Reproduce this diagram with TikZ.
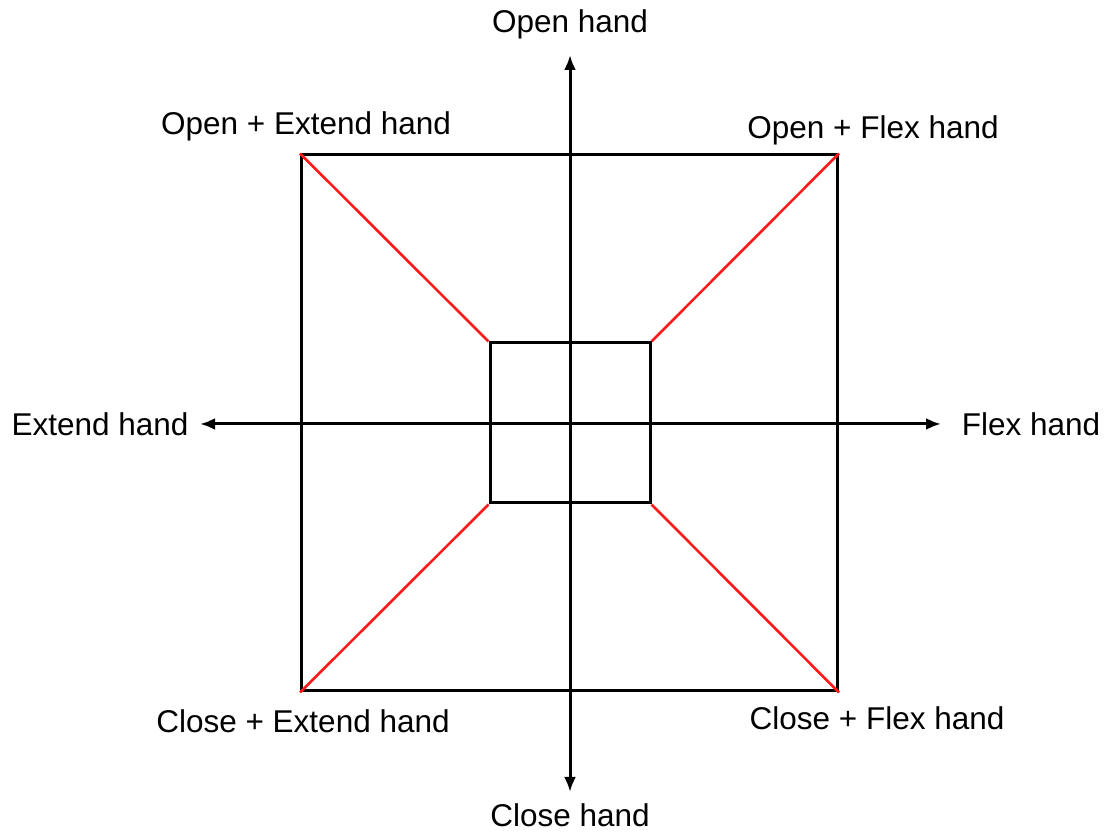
\documentclass[tikz,border=0pt]{standalone}
\usepackage{fontspec}
\setmainfont{Liberation Sans}
\usepackage{xcolor}
\usepackage{tikz}
\usetikzlibrary{arrows.meta,positioning}
\definecolor{hndred}{HTML}{FF1A1A}
\definecolor{hnddark}{HTML}{000000}
\tikzset{
  sq/.style={draw=hnddark,line width=3pt,minimum width=#1,minimum height=#1,inner sep=0pt},
  diag/.style={draw=hndred,line width=2.6pt},
  axis/.style={-{Latex[length=15pt,width=12pt]},draw=hnddark,line width=3pt},
  lbl/.style={inner sep=0pt,font=\fontsize{31.5}{37}\selectfont},
}
\begin{document}
\begin{tikzpicture}[x=1pt,y=1pt]
  \useasboundingbox (0,0) rectangle (1106,832);
  % squares
  \node[sq=536pt] (outer) at (569.5,409) {};
  \node[sq=160pt] (inner) at (570,409) {};
  % corner links
  \draw[diag] (outer.north west) -- (inner.north west);
  \draw[diag] (outer.north east) -- (inner.north east);
  \draw[diag] (outer.south west) -- (inner.south west);
  \draw[diag] (outer.south east) -- (inner.south east);
  % axes
  \coordinate (ctr) at (570,408);
  \coordinate (top) at (570,777);
  \coordinate (bot) at (570,40);
  \coordinate (lft) at (200,408);
  \coordinate (rgt) at (941,408);
  \draw[axis] (ctr) -- (top);
  \draw[axis] (ctr) -- (bot);
  \draw[axis] (ctr) -- (lft);
  \draw[axis] (ctr) -- (rgt);
  % labels
  \node[lbl] (open) at (570,808) {Open hand};
  \node[lbl] (close) at (570,17) {Close hand};
  \node[lbl] (ext) at (100,408) {Extend hand};
  \node[lbl] (flex) at (1031,408) {Flex hand};
  \node[lbl] (oext) at (306,706) {Open + Extend hand};
  \node[lbl] (oflex) at (873,702) {Open + Flex hand};
  \node[lbl] (cext) at (303,111) {Close + Extend hand};
  \node[lbl] (cflex) at (877,114) {Close + Flex hand};
\end{tikzpicture}
\end{document}
